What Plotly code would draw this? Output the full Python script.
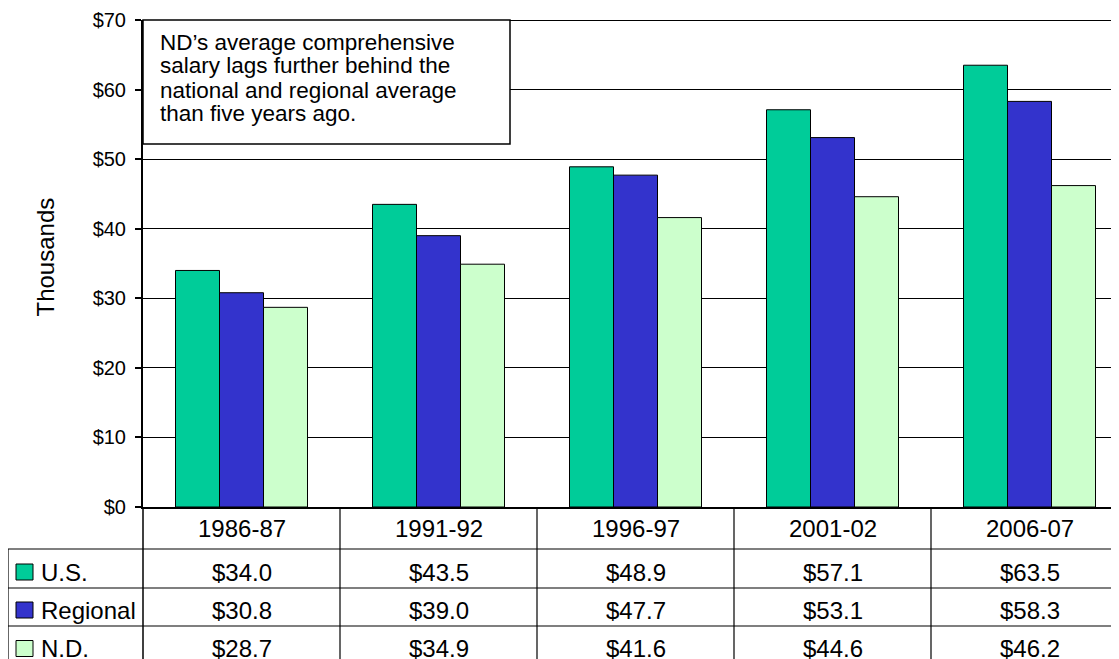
import plotly.graph_objects as go

# ----- data -----
categories = ["1986-87", "1991-92", "1996-97", "2001-02", "2006-07"]
us = [34.0, 43.5, 48.9, 57.1, 63.5]
regional = [30.8, 39.0, 47.7, 53.1, 58.3]
nd = [28.7, 34.9, 41.6, 44.6, 46.2]

series_names = ["U.S.", "Regional", "N.D."]
series_colors = ["#00CC99", "#3333CC", "#CCFFCC"]

note_lines = [
    "ND\u2019s average comprehensive",
    "salary lags further behind the",
    "national and regional average",
    "than five years ago.",
]

FONT = "Liberation Sans, Arial, sans-serif"

# ----- layout geometry (screen pixels) -----
# the page body has an 8px margin, so the figure itself is 8px smaller
OFF = 8
W, H = 1119 - OFF, 659 - OFF
PLOT_L, PLOT_T, PLOT_B = 143, 20, 507   # plot area on screen
PW, PH = 1119 - PLOT_L, PLOT_B - PLOT_T
CAT_W = 197


def px(x):
    # screen x -> paper x
    return (x - PLOT_L) / PW


def py(y):
    # screen y -> paper y
    return (PLOT_B - y) / PH


fig = go.Figure()

# bars
for name, vals, color in zip(series_names, [us, regional, nd], series_colors):
    fig.add_trace(
        go.Bar(
            x=list(range(len(categories))),
            y=vals,
            name=name,
            marker=dict(color=color, line=dict(color="black", width=1)),
            showlegend=False,
        )
    )

shapes = []
annotations = []


def label(x, y, text, size=24, xref="paper", xanchor="center", **kw):
    annotations.append(dict(x=x, y=y, xref=xref, yref="paper", text=text,
                            xanchor=xanchor, yanchor="middle", showarrow=False,
                            font=dict(size=size, color="black"), **kw))


# top border line at $70
shapes.append(dict(type="line", xref="paper", yref="y", x0=0, x1=1, y0=70, y1=70,
                   line=dict(color="black", width=2)))

# data table grid
row_lines = [549, 588, 626]
for yl in row_lines:
    shapes.append(dict(type="line", xref="paper", yref="paper", x0=px(8), x1=1,
                       y0=py(yl), y1=py(yl), line=dict(color="black", width=1.2)))
for i in range(len(categories) - 1):
    shapes.append(dict(type="line", xref="x", yref="paper", x0=i + 0.5, x1=i + 0.5,
                       y0=0, y1=py(670), line=dict(color="black", width=1.2)))
shapes.append(dict(type="line", xref="paper", yref="paper", x0=0, x1=0,
                   y0=0, y1=py(670), line=dict(color="black", width=1.5)))
shapes.append(dict(type="line", xref="paper", yref="paper", x0=px(8), x1=px(8),
                   y0=py(549), y1=py(670), line=dict(color="black", width=1.2)))

# category headers
for i, c in enumerate(categories):
    label(i, py(528), c, xref="x")

# table rows: legend key, label and values
row_centers = [572, 610, 648.5]
for name, vals, color, yc in zip(series_names, [us, regional, nd], series_colors, row_centers):
    shapes.append(dict(type="rect", xref="paper", yref="paper",
                       x0=px(16), x1=px(33), y0=py(yc - 8), y1=py(yc + 8),
                       fillcolor=color, line=dict(color="black", width=1)))
    label(px(39), py(yc), name, xanchor="left")
    for i, v in enumerate(vals):
        label(i, py(yc), f"${v:.1f}", xref="x")

# y axis title
label(px(44.5), py(257), "Thousands", textangle=-90)

# note box
shapes.append(dict(type="rect", xref="paper", yref="paper", x0=0, x1=px(510),
                   y0=py(144), y1=1, fillcolor="white",
                   line=dict(color="black", width=1.5), layer="above"))
for k, line in enumerate(note_lines):
    label(px(158), py(42 + 24 * k), line, size=22.5, xanchor="left")

fig.update_layout(
    width=W,
    height=H,
    margin=dict(l=PLOT_L - OFF, r=0, t=PLOT_T - OFF, b=H - (PLOT_B - OFF), pad=0),
    paper_bgcolor="white",
    plot_bgcolor="white",
    font=dict(family=FONT, color="black"),
    barmode="group",
    bargap=0.33,
    bargroupgap=0,
    shapes=shapes,
    annotations=annotations,
)

fig.update_xaxes(
    range=[-0.5, -0.5 + PW / CAT_W],
    showticklabels=False,
    ticks="",
    showgrid=False,
    zeroline=False,
    showline=True,
    linecolor="black",
    linewidth=1.5,
)

fig.update_yaxes(
    range=[0, 70],
    dtick=10,
    tickprefix="$",
    tickfont=dict(size=20, color="black"),
    ticks="outside",
    ticklen=6,
    tickwidth=1.5,
    tickcolor="black",
    ticklabelstandoff=5,
    showline=True,
    linecolor="black",
    linewidth=2,
    showgrid=True,
    gridcolor="black",
    gridwidth=1,
    zeroline=False,
)

fig.write_html("out.html", config={"displayModeBar": False})
